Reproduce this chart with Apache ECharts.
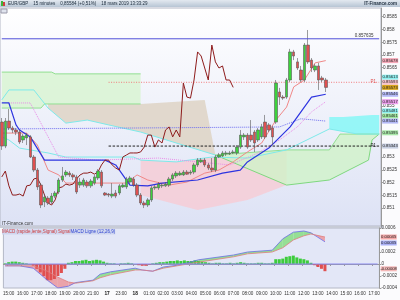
<!DOCTYPE html>
<html>
<head>
<meta charset="utf-8">
<script src="https://cdn.jsdelivr.net/npm/echarts@6/dist/echarts.min.js"></script>
<style>
  html, body { margin: 0; padding: 0; background: #fbfbfd; }
  #chart { width: 400px; height: 300px; }
</style>
</head>
<body>
<div id="chart"></div>
<script>
// ---- data ----
const hourLabels = ['15:00','16:00','17:00','18:00','19:00','20:00','21:00','17','23:00','18',
  '01:00','02:00','03:00','04:00','05:00','06:00','07:00','08:00','09:00','10:00','11:00',
  '12:00','13:00','14:00','15:00','16:00','17:00'];
const slotCount = 107;

// [open, close, low, high]
const candles = [
  [0.85437,0.85343,0.85328,0.85453],[0.85343,0.85441,0.85335,0.85453],[0.85441,0.85414,0.85406,0.85488],
  [0.85414,0.85406,0.85394,0.85422],[0.85406,0.85398,0.85386,0.85414],[0.85398,0.85359,0.85351,0.85406],
  [0.85367,0.85382,0.85355,0.85390],[0.85375,0.85386,0.85347,0.85394],[0.85379,0.85300,0.85296,0.85386],
  [0.85300,0.85249,0.85241,0.85308],[0.85249,0.85183,0.85171,0.85257],[0.85190,0.85112,0.85100,0.85198],
  [0.85124,0.85143,0.85104,0.85155],[0.85139,0.85120,0.85112,0.85147],[0.85124,0.85147,0.85116,0.85159],
  [0.85147,0.85159,0.85139,0.85167],[0.85163,0.85210,0.85155,0.85218],[0.85210,0.85226,0.85202,0.85261],
  [0.85230,0.85241,0.85222,0.85249],[0.85237,0.85230,0.85222,0.85245],[0.85230,0.85222,0.85210,0.85237],
  [0.85222,0.85163,0.85155,0.85230],[0.85190,0.85202,0.85179,0.85218],[0.85190,0.85210,0.85183,0.85218],
  [0.85202,0.85187,0.85179,0.85210],[0.85187,0.85206,0.85179,0.85214],[0.85198,0.85222,0.85190,0.85230],
  [0.85218,0.85245,0.85210,0.85253],[0.85241,0.85187,0.85179,0.85249],[0.85159,0.85151,0.85147,0.85163],
  [0.85155,0.85151,0.85143,0.85159],[0.85147,0.85155,0.85139,0.85198],[0.85159,0.85147,0.85139,0.85171],
  [0.85159,0.85187,0.85151,0.85194],[0.85183,0.85190,0.85179,0.85198],[0.85183,0.85214,0.85175,0.85222],
  [0.85202,0.85218,0.85194,0.85226],[0.85214,0.85190,0.85183,0.85222],[0.85190,0.85151,0.85143,0.85198],
  [0.85151,0.85120,0.85112,0.85159],[0.85120,0.85112,0.85100,0.85128],[0.85112,0.85132,0.85104,0.85139],
  [0.85132,0.85179,0.85124,0.85187],[0.85179,0.85183,0.85171,0.85190],[0.85179,0.85194,0.85171,0.85202],
  [0.85187,0.85190,0.85179,0.85198],[0.85187,0.85194,0.85183,0.85202],[0.85190,0.85214,0.85183,0.85222],
  [0.85214,0.85230,0.85206,0.85237],[0.85226,0.85237,0.85218,0.85245],[0.85230,0.85237,0.85226,0.85245],
  [0.85230,0.85241,0.85226,0.85249],[0.85241,0.85233,0.85230,0.85249],[0.85237,0.85241,0.85230,0.85249],
  [0.85241,0.85269,0.85233,0.85277],[0.85269,0.85288,0.85261,0.85296],[0.85281,0.85288,0.85277,0.85296],
  [0.85288,0.85269,0.85261,0.85296],[0.85269,0.85257,0.85249,0.85277],[0.85257,0.85249,0.85241,0.85296],
  [0.85249,0.85300,0.85241,0.85308],[0.85300,0.85308,0.85296,0.85316],[0.85304,0.85316,0.85300,0.85324],
  [0.85312,0.85316,0.85304,0.85324],[0.85312,0.85316,0.85308,0.85324],[0.85316,0.85320,0.85312,0.85328],
  [0.85316,0.85339,0.85308,0.85347],[0.85339,0.85386,0.85332,0.85406],[0.85379,0.85386,0.85367,0.85394],
  [0.85386,0.85339,0.85332,0.85394],[0.85386,0.85367,0.85359,0.85445],[0.85398,0.85355,0.85320,0.85406],
  [0.85367,0.85406,0.85359,0.85414],[0.85379,0.85418,0.85371,0.85430],[0.85437,0.85379,0.85371,0.85465],
  [0.85426,0.85406,0.85398,0.85433],[0.85414,0.85379,0.85347,0.85422],[0.85437,0.85590,0.85430,0.85602],
  [0.85555,0.85535,0.85504,0.85571],[0.85535,0.85531,0.85524,0.85543],[0.85535,0.85602,0.85528,0.85610],
  [0.85602,0.85712,0.85594,0.85724],[0.85712,0.85696,0.85680,0.85720],[0.85673,0.85649,0.85641,0.85688],
  [0.85641,0.85602,0.85594,0.85657],[0.85602,0.85739,0.85594,0.85747],[0.85739,0.85673,0.85665,0.85798],
  [0.85680,0.85649,0.85633,0.85688],[0.85641,0.85657,0.85633,0.85665],[0.85657,0.85602,0.85563,0.85669],
  [0.85610,0.85602,0.85594,0.85618],[0.85602,0.85573,0.85555,0.85610]
];

// lines as [slot, price] vertices
const tenkan = [[0,0.85394],[7,0.85394],[10,0.85347],[13,0.85249],[16,0.85230],[18,0.85198],[35,0.85198],
  [38,0.85230],[41,0.85210],[47,0.85190],[52,0.85202],[57,0.85237],[61,0.85249],[65,0.85281],[69,0.85320],
  [73,0.85355],[77,0.85445],[80,0.85496],[82,0.85575],[85,0.85602],[88,0.85669],[91,0.85678]];
const kijun = [[0,0.85512],[2,0.85512],[4,0.85426],[5,0.85406],[8,0.85379],[12,0.85288],[29,0.85288],
  [32,0.85269],[36,0.85190],[41,0.85187],[45,0.85198],[55,0.85210],[62,0.85237],[67,0.85249],[69,0.85281],
  [75,0.85335],[81,0.85418],[87,0.85535],[91,0.85546]];
const lagging = [0.85222,0.85245,0.85187,0.85151,0.85151,0.85155,0.85147,0.85187,0.85190,0.85214,0.85218,
  0.85190,0.85151,0.85120,0.85112,0.85132,0.85179,0.85183,0.85194,0.85190,0.85194,0.85214,0.85230,0.85237,
  0.85237,0.85241,0.85233,0.85241,0.85269,0.85288,0.85288,0.85269,0.85257,0.85249,0.85300,0.85308,0.85316,
  0.85316,0.85316,0.85320,0.85339,0.85386,0.85386,0.85339,0.85367,0.85355,0.85406,0.85418,0.85379,0.85406,
  0.85379,0.85590,0.85535,0.85531,0.85602,0.85712,0.85696,0.85649,0.85602,0.85739,0.85673,0.85649,0.85657,
  0.85602,0.85602,0.85573];
const magentaDotted = [[2,0.85512],[8,0.85512],[16,0.85300],[27,0.85288],[44,0.85296],[64,0.85269],
  [72,0.85316],[78,0.85367],[83,0.85418],[87,0.85477],[91,0.85517]];
const blueDotted = [[0,0.85410],[78,0.85418],[84,0.85450],[91,0.85441]];
const cyanUpper = [[0,0.85524],[2,0.85563],[9,0.85563],[13,0.85492],[18,0.85433],[24,0.85445],[30,0.85426],
  [39,0.85398],[60,0.85308]];
const cyanLower = [[0,0.85379],[2,0.85367],[5,0.85335],[13,0.85316],[18,0.85300],[37,0.85300],[39,0.85288],
  [49,0.85281],[59,0.85300],[69,0.85296],[80,0.85328],[92,0.85410],[100,0.85390],[106,0.85390]];

// cloud bands: upper edge and lower edge
const bandTopUpper = [[0,0.85633],[14,0.85633],[15,0.85626],[39,0.85626]];
const bandTopLower = [[0,0.85492],[11,0.85492],[12,0.85508],[39,0.85508]];
const bandTanUpper = [[13,0.85508],[39,0.85508],[57,0.85524],[60,0.85308]];
const bandTanLower = [[13,0.85492],[18,0.85433],[24,0.85445],[30,0.85426],[39,0.85398],[60,0.85308]];
const bandPinkUpper = [[39,0.85288],[49,0.85281],[59,0.85300],[69,0.85296],[80,0.85328]];
const bandPinkLower = [[39,0.85151],[55,0.85092],[69,0.85132],[80,0.85190]];
const bandGreenUpper = [[60,0.85308],[80,0.85328],[92,0.85328],[95,0.85390],[106,0.85390]];
const bandGreenLower = [[60,0.85308],[80,0.85190],[92,0.85210],[103,0.85288],[104,0.85367],[106,0.85390]];
const bandCyanUpper = [[92,0.85457],[96,0.85457],[104,0.85465],[106,0.85465]];
const bandCyanLower = [[92,0.85410],[100,0.85390],[106,0.85390]];

// horizontal levels
const resistLevel = 0.857635;
const pivotHigh = 0.85593;
const pivotLow = 0.85343;
const tagValues = [0.85678,0.85613,0.85593,0.85573,0.85546,0.85517,0.85481,0.85461,0.85441,0.85395,0.85343];
const priceTicks = [0.8585,0.858,0.8575,0.857,0.8565,0.855,0.853,0.8525,0.852,0.8515,0.851];

// MACD
const macdHist = [1,3,4,4,3,2,1,0,-3,-8,-14,-20,-27,-27,-25,-20,-15,-8,2,3,5,5,6,7,5,6,7,6,4,2,
  1,1,0,1,1,2,1,0,-2,-3,-3,-1,1,2,3,3,4,5,5,6,5,6,5,5,6,5,4,3,2,1,2,2,1,1,2,1,2,3,2,1,1,1,2,2,1,1,2,
  8,8,9,12,13,14,11,9,8,6,2,-2,-5,-8,-12].map(v => v / 100000);
const macdSlots = [0,4,8,12,15,18,20,25,27,30,37,39,42,45,49,52,55,65,69,76,79,82,85,87,91];
const macdLine = [-3,-3,-7,-27,-40,-37,-31,-27,-17,-13,-7,-10,-12,-5,-2,2,7,15,20,23,42,53,55,52,37].map(v => v / 100000);
const signalLine = [-3,-3,-3,-12,-22,-30,-32,-28,-23,-18,-10,-10,-12,-7,-3,0,3,12,17,20,27,40,47,50,45].map(v => v / 100000);
const macdTicks = [0.0006,0.0002,0,-0.0002,-0.0004];
const macdTags = [0.00045,0.00035,-0.00008];

// ---- chart ----
const chart = echarts.init(document.getElementById('chart'));
const tagColors = ['#f6a8b8','#8ff0f0','#f8c2ca','#d8a51e','#b3b8f6','#ec9eec','#8ff0f0','#9fe69f','#b3b8f6','#a8e8a8','#c6cee0'];
const macdTagColors = ['#f4a8a8','#aab0f6','#f4b8b8'];
const cats = Array.from({ length: slotCount }, (_, i) => String(i));
const lastSlot = slotCount - 1;

function band(upper, lower, fill) {
  const pts = upper.concat(lower.slice().reverse());
  return {
    type: 'custom', xAxisIndex: 0, yAxisIndex: 0, silent: true, z: 1, clip: true,
    data: [0],
    renderItem: (params, api) => ({
      type: 'polygon',
      shape: { points: pts.map(p => api.coord(p)) },
      style: { fill: fill }
    })
  };
}

function line(data, color, type, width, xi) {
  return {
    type: 'line', xAxisIndex: xi || 0, yAxisIndex: xi || 0, data: data,
    showSymbol: false, silent: true, z: 3,
    lineStyle: { color: color, width: width || 1, type: type || 'solid' }
  };
}

// value tag sitting on the price axis
function tag(v, color) {
  return {
    coord: [lastSlot, v], symbol: 'rect', symbolSize: [16, 5], symbolOffset: [11, 0],
    itemStyle: { color: color },
    label: { show: true, position: 'inside', formatter: v.toFixed(5), fontSize: 4.2, color: '#222',
      fontFamily: 'Liberation Sans' }
  };
}

function textMark(slot, v, text, color, pos) {
  return {
    coord: [slot, v], symbol: 'circle', symbolSize: 1, itemStyle: { color: 'rgba(0,0,0,0)' },
    label: { show: true, position: pos, formatter: text, fontSize: 4.5, color: color, fontFamily: 'Liberation Sans' }
  };
}

const macdFill = {
  type: 'custom', xAxisIndex: 1, yAxisIndex: 1, silent: true, z: 2, clip: true,
  data: [0],
  renderItem: (params, api) => {
    const kids = [];
    const up = '#95df95', down = '#eaa3aa';
    for (let k = 0; k < macdSlots.length - 1; k++) {
      const i0 = macdSlots[k], i1 = macdSlots[k + 1];
      const m0 = macdLine[k], m1 = macdLine[k + 1], s0 = signalLine[k], s1 = signalLine[k + 1];
      const d0 = m0 - s0, d1 = m1 - s1;
      const poly = (pts, c) => kids.push({
        type: 'polygon', shape: { points: pts.map(p => api.coord(p)) }, style: { fill: c }
      });
      if (d0 * d1 < 0) {
        const t = d0 / (d0 - d1);
        const ix = i0 + t * (i1 - i0), vx = m0 + t * (m1 - m0);
        poly([[i0, m0], [ix, vx], [i0, s0]], d0 > 0 ? up : down);
        poly([[ix, vx], [i1, m1], [i1, s1]], d1 > 0 ? up : down);
      } else {
        poly([[i0, m0], [i1, m1], [i1, s1], [i0, s0]], (d0 + d1) >= 0 ? up : down);
      }
    }
    return { type: 'group', children: kids };
  }
};

const axisFont = { fontSize: 4.6, color: '#333', fontFamily: 'Liberation Sans' };

const option = {
  animation: false,
  backgroundColor: '#fbfbfd',
  grid: [
    { left: 0, top: 8, right: 17, height: 218, show: true, borderColor: '#b4b8c6', borderWidth: 1,
      backgroundColor: new echarts.graphic.LinearGradient(0, 0, 0, 1, [
        { offset: 0, color: '#ffffff' }, { offset: 1, color: '#dde2f5' }]) },
    { left: 0, top: 228, right: 17, height: 60, show: true, borderColor: '#b4b8c6', borderWidth: 1,
      backgroundColor: '#e3e7f7' }
  ],
  xAxis: [
    { type: 'category', gridIndex: 0, data: cats, boundaryGap: true,
      axisLine: { show: false }, axisTick: { show: false }, axisLabel: { show: false } },
    { type: 'category', gridIndex: 1, data: cats, boundaryGap: true,
      axisLine: { lineStyle: { color: '#999' } },
      axisTick: { show: true, interval: (i) => i % 4 === 1, length: 2, lineStyle: { color: '#999' } },
      axisLabel: Object.assign({}, axisFont, {
        interval: (i) => i % 4 === 1, margin: 3, hideOverlap: false, showMinLabel: true,
        formatter: (v, i) => {
          if (i % 4 !== 1) return '';
          const t = hourLabels[(i - 1) / 4] || '';
          return t.length <= 2 ? '{b|' + t + '}' : t;
        },
        rich: { b: { fontWeight: 'bold', fontSize: 4.8, color: '#111', fontFamily: 'Liberation Sans' } }
      }) }
  ],
  yAxis: [
    { type: 'value', gridIndex: 0, position: 'right', min: 0.850297, max: 0.858842, scale: true,
      splitLine: { show: false }, axisLine: { show: true, lineStyle: { color: '#999' } },
      axisTick: { show: true, length: 2, customValues: priceTicks },
      axisLabel: Object.assign({}, axisFont, { margin: 2, customValues: priceTicks,
        formatter: v => String(+v.toFixed(4)) }) },
    { type: 'value', gridIndex: 1, position: 'right', min: -0.0004, max: 0.0006,
      splitLine: { show: false }, axisLine: { show: true, lineStyle: { color: '#999' } },
      axisTick: { show: true, length: 2, customValues: macdTicks },
      axisLabel: Object.assign({}, axisFont, { margin: 2, customValues: macdTicks,
        formatter: v => v === 0 ? '0' : v.toFixed(4) }) }
  ],
  graphic: [
    { type: 'rect', shape: { x: 0, y: 0, width: 400, height: 7 }, silent: true,
      style: { fill: new echarts.graphic.LinearGradient(0, 0, 0, 1, [
        { offset: 0, color: '#e3e9f0' }, { offset: 1, color: '#b7c5d4' }]) } },
    { type: 'rect', shape: { x: 1, y: 1, width: 2, height: 5 }, style: { fill: '#3db53d' } },
    { type: 'rect', shape: { x: 3, y: 2, width: 2, height: 4 }, style: { fill: '#d04040' } },
    { type: 'text', x: 8, y: 1.2, style: { text: 'EUR/GBP    15 minutes    0,85584 (+0,51%)    18 mars 2019 13:33:29',
      fontSize: 4.5, fill: '#1a2a3a', fontFamily: 'Liberation Sans' } },
    { type: 'text', x: 397, y: 1.2, style: { text: 'IT-Finance.com', align: 'right', fontSize: 4.5,
      fontWeight: 'bold', fill: '#1a2a3a', fontFamily: 'Liberation Sans' } },
    { type: 'rect', shape: { x: 1, y: 9, width: 6, height: 4 }, style: { fill: '#e0e4ee', stroke: '#99a' } },
    { type: 'rect', shape: { x: 0, y: 226, width: 383, height: 2 }, style: { fill: '#c7cbd6' } },
    { type: 'text', x: 2, y: 221, style: { text: 'IT-Finance.com', fontSize: 4.5, fill: '#333', fontFamily: 'Liberation Sans' } },
    { type: 'text', x: 2, y: 229.5, style: { fontSize: 4.5, fontFamily: 'Liberation Sans',
      text: '{r|MACD (rapide,lente,Signal) Signal}{b|MACD Ligne (12,26,9)}',
      rich: { r: { fill: '#d04040', fontSize: 4.5, backgroundColor: '#cfd6ef' },
              b: { fill: '#2a3fd0', fontSize: 4.5, backgroundColor: '#cfd6ef' } } } }
  ],
  series: [
    band(bandTopUpper, bandTopLower, 'rgba(214,244,206,0.75)'),
    band(bandTanUpper, bandTanLower, 'rgba(222,212,196,0.85)'),
    band(bandPinkUpper, bandPinkLower, 'rgba(246,204,214,0.85)'),
    band(bandGreenUpper, bandGreenLower, 'rgba(208,242,200,0.8)'),
    band(bandCyanUpper, bandCyanLower, 'rgba(140,246,246,0.9)'),
    line(bandTopUpper, '#92df92', 'solid', 1),
    line(bandTopLower, '#92df92', 'solid', 1),
    line(bandGreenLower, '#7fd87f', 'solid', 1),
    line(bandGreenUpper, '#92df92', 'solid', 1),
    line(cyanUpper, '#7eeaea', 'solid', 1),
    line(cyanLower, '#7eeaea', 'solid', 1),
    line(blueDotted, '#6d6df0', 'dotted', 1),
    line(magentaDotted, '#e98ce9', 'dotted', 1),
    line(tenkan, '#f08888', 'solid', 1),
    line(kijun, '#2d34e0', 'solid', 1.2),
    line(lagging.map((v, i) => [i, v]), '#8e1c1c', 'solid', 1),
    line([[30, pivotHigh], [lastSlot, pivotHigh]], '#f07a7a', [1, 1.5], 1),
    line([[30, pivotLow], [lastSlot, pivotLow]], '#222', [2.5, 1.5], 1),
    {
      type: 'candlestick', xAxisIndex: 0, yAxisIndex: 0, data: candles, barWidth: 3, z: 5, silent: true,
      itemStyle: { color: '#3cd23c', color0: '#e05050', borderColor: '#5a5a5a', borderColor0: '#5a5a5a', borderWidth: 0.6 }
    },
    Object.assign(line([[0, resistLevel], [lastSlot, resistLevel]], '#5050d8', 'solid', 1), {
      clip: false, z: 6,
      markPoint: {
        silent: true, animation: false,
        data: tagValues.map((v, i) => tag(v, tagColors[i])).concat([
          textMark(lastSlot, resistLevel, '0.857635', '#333', [-24, -5]),
          textMark(104, pivotHigh, 'P1', '#e05050', [-1, -2.5]),
          textMark(104, pivotLow, 'P1', '#222', [-1, -2.5])
        ])
      }
    }),
    {
      type: 'bar', xAxisIndex: 1, yAxisIndex: 1, data: macdHist, barWidth: 3, silent: true, z: 3,
      itemStyle: { color: p => p.value >= 0 ? '#3ccc3c' : '#e05050' }
    },
    macdFill,
    line(macdSlots.map((s, k) => [s, macdLine[k]]), '#6b6be6', 'solid', 0.8, 1),
    line(macdSlots.map((s, k) => [s, signalLine[k]]), '#e07d7d', 'solid', 0.8, 1),
    Object.assign(line([[0, 0], [lastSlot, 0]], '#8a8af0', 'solid', 1, 1), {
      clip: false, z: 6,
      markPoint: {
        silent: true, animation: false,
        data: macdTags.map((v, i) => Object.assign(tag(v, macdTagColors[i]), {
          label: { show: true, position: 'inside', formatter: v.toFixed(5), fontSize: 4.2, color: '#222',
            fontFamily: 'Liberation Sans' } }))
      }
    })
  ]
};

chart.setOption(option);
</script>
</body>
</html>
